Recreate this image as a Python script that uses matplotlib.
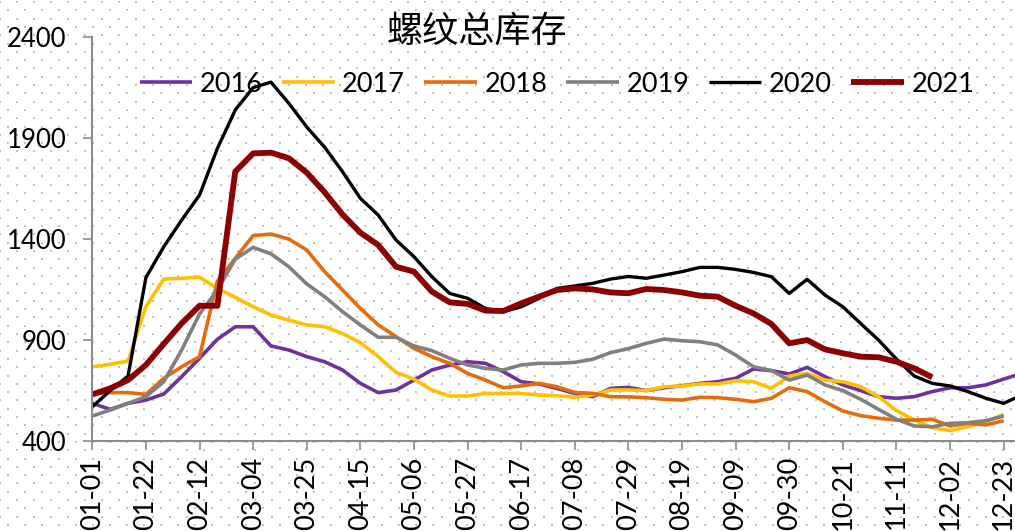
import numpy as np
import matplotlib
matplotlib.use("Agg")
import matplotlib.pyplot as plt

plt.rcParams["font.family"] = ["Lato", "Noto Sans CJK SC", "DejaVu Sans"]

# weekly rebar inventory, one list per year
y2016 = [585, 555, 585, 601, 631, 717, 808, 902, 964, 964, 869, 849, 816, 791, 750, 684, 638, 651,
         700, 750, 774, 791, 783, 742, 692, 681, 659, 634, 618, 659, 664, 648, 662, 672, 684, 692,
         709, 755, 747, 730, 763, 717, 676, 648, 618, 610, 618, 643, 662, 662, 676, 705, 733]
y2017 = [766, 778, 794, 1063, 1200, 1204, 1209, 1154, 1110, 1063, 1022, 997, 973, 964, 931, 885,
         816, 738, 705, 651, 621, 621, 634, 634, 634, 626, 623, 615, 626, 651, 651, 648, 667, 671,
         681, 681, 697, 692, 659, 720, 733, 700, 692, 667, 618, 549, 502, 464, 450, 469, 494, 530]
y2018 = [632, 638, 638, 629, 709, 766, 816, 1190, 1303, 1415, 1423, 1398, 1344, 1237, 1146, 1055,
         973, 915, 857, 816, 783, 733, 700, 662, 671, 684, 667, 639, 634, 618, 617, 613, 605, 601,
         615, 613, 605, 593, 610, 662, 643, 593, 547, 524, 511, 502, 502, 506, 473, 486, 478, 499]
y2019 = [522, 552, 585, 618, 692, 849, 1027, 1146, 1299, 1357, 1325, 1261, 1176, 1113, 1039, 973,
         912, 912, 869, 846, 808, 775, 758, 750, 775, 783, 783, 788, 803, 836, 856, 882, 903, 895,
         890, 874, 824, 766, 747, 700, 725, 676, 648, 605, 555, 506, 473, 469, 486, 489, 499, 522]
y2020 = [568, 648, 720, 1208, 1360, 1492, 1616, 1847, 2037, 2148, 2175, 2070, 1953, 1853, 1732,
         1600, 1517, 1393, 1311, 1212, 1129, 1105, 1055, 1039, 1063, 1105, 1154, 1166, 1179, 1200,
         1213, 1204, 1220, 1237, 1258, 1258, 1248, 1233, 1212, 1129, 1199, 1121, 1063, 980, 898,
         804, 720, 684, 671, 643, 610, 585, 626]
y2021 = [629, 659, 700, 775, 879, 981, 1068, 1068, 1732, 1822, 1826, 1798, 1727, 1630, 1520, 1430,
         1369, 1261, 1237, 1138, 1085, 1077, 1044, 1042, 1080, 1113, 1146, 1154, 1149, 1134, 1130,
         1151, 1146, 1134, 1118, 1113, 1068, 1030, 978, 882, 898, 852, 833, 816, 813, 791, 758, 714]

tick_labels = ["01-01", "01-22", "02-12", "03-04", "03-25", "04-15", "05-06", "05-27", "06-17",
               "07-08", "07-29", "08-19", "09-09", "09-30", "10-21", "11-11", "12-02", "12-23"]

series = [("2016", y2016, "#7030A0", 2.6),
          ("2017", y2017, "#FFC000", 2.6),
          ("2018", y2018, "#E46C0A", 2.6),
          ("2019", y2019, "#808080", 2.6),
          ("2020", y2020, "#000000", 2.4),
          ("2021", y2021, "#8B0000", 4.2)]

W, H = 1015, 531
fig = plt.figure(figsize=(W / 100, H / 100), dpi=100)

# dotted background texture over the whole picture
bg = fig.add_axes([0, 0, 1, 1], zorder=0)
bg.set_xlim(0, W)
bg.set_ylim(H, 0)
bg.axis("off")
gy = np.arange(2, H, 8.3)
pts = []
for k, yy in enumerate(gy):
    off = 0 if k % 2 == 0 else 8.5
    for xx in np.arange(off, W, 17):
        pts.append((xx, yy))
pts = np.array(pts)
bg.scatter(pts[:, 0], pts[:, 1], s=1.6, marker="s", color="#c4c4c4", linewidths=0)

left, bottom, top = 92.3, 440.7, 36.7
ax = fig.add_axes([left / W, 1 - bottom / H, 1 - left / W, (bottom - top) / H], zorder=1)
ax.patch.set_alpha(0)

for name, vals, color, lw in series:
    ax.plot(np.arange(len(vals)), vals, color=color, lw=lw, label=name,
            solid_joinstyle="round", solid_capstyle="butt")

ax.set_xlim(0, (W - left) / 17.87)
ax.set_ylim(400, 2400)
ax.set_yticks([400, 900, 1400, 1900, 2400])
ax.set_xticks(np.arange(0, 3 * len(tick_labels), 3))
ax.set_xticklabels(tick_labels, rotation=90)

for s in ["top", "right"]:
    ax.spines[s].set_visible(False)
for s in ["left", "bottom"]:
    ax.spines[s].set_color("#8c8c8c")
    ax.spines[s].set_linewidth(1.5)
ax.tick_params(axis="y", length=6.5, width=1.2, color="#8c8c8c", labelsize=18.5, pad=12)
ax.tick_params(axis="x", length=6.5, width=1.2, color="#8c8c8c", labelsize=19.5, pad=5)

fig.legend(loc="center left", bbox_to_anchor=(126 / W, 1 - 84 / H), ncol=6, frameon=False,
           fontsize=19.5, handlelength=1.95, handletextpad=0.28, columnspacing=0.7, borderpad=0)

fig.text(477 / W, 1 - 32 / H, "螺纹总库存", ha="center", va="center", fontsize=26,
         family=["Noto Sans CJK SC", "DejaVu Sans"])

fig.savefig("out.png", dpi=100)
